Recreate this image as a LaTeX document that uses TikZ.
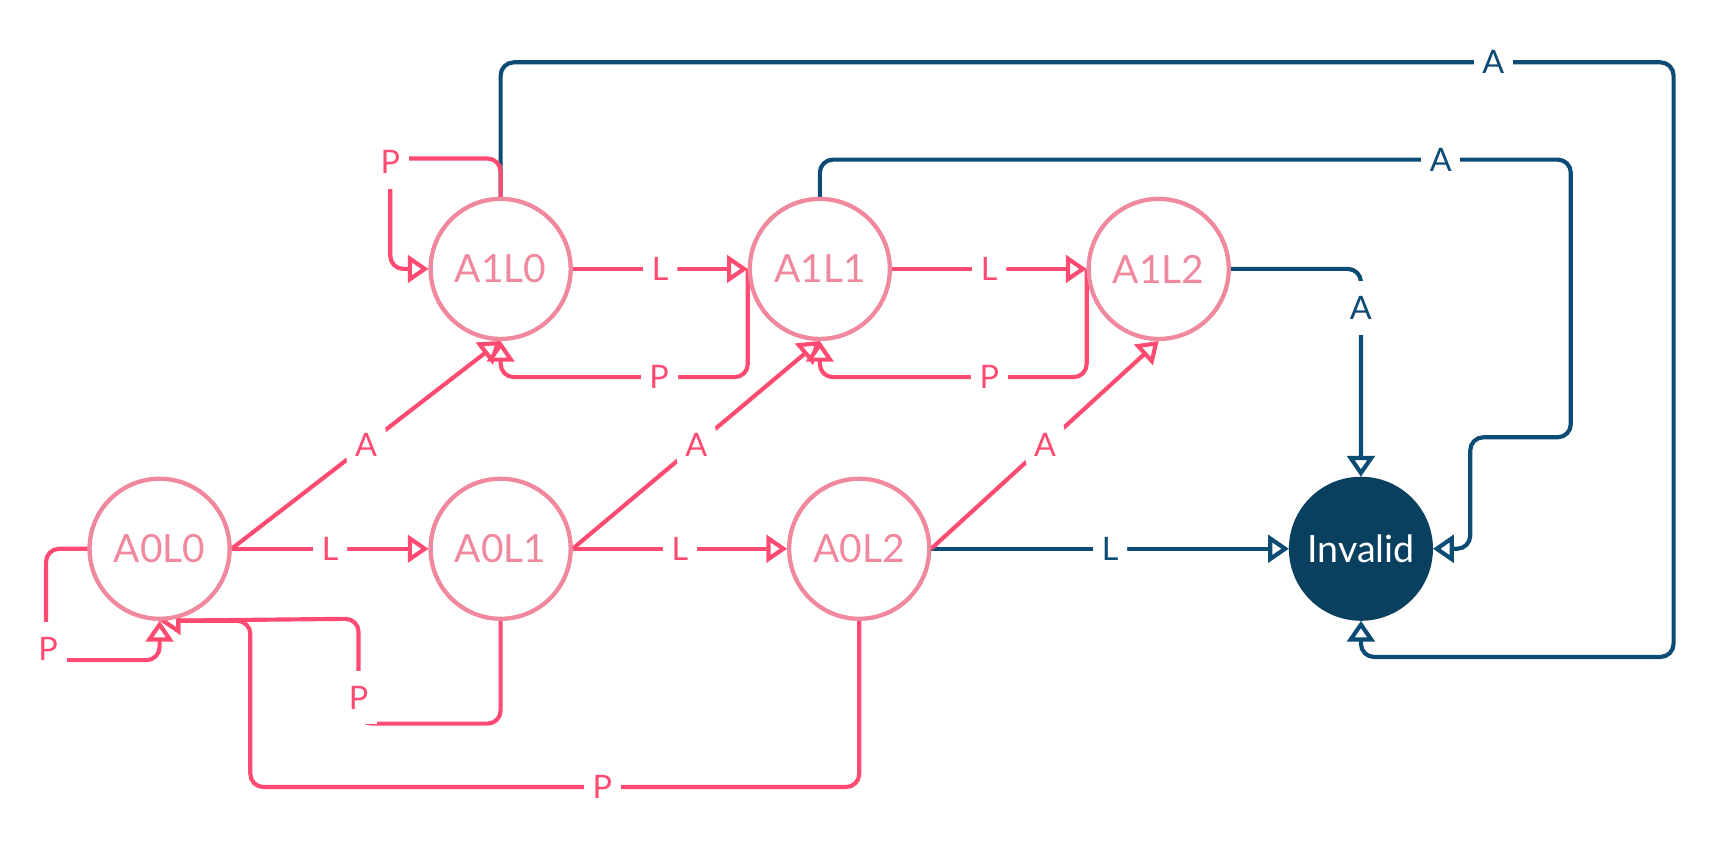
\documentclass[tikz,border=0pt]{standalone}
\usepackage{fontspec}
\setmainfont{Lato}
\usetikzlibrary{arrows.meta,calc}
\definecolor{pkline}{HTML}{FF4B72}
\definecolor{pknode}{HTML}{F0889E}
\definecolor{blline}{HTML}{0C4C74}
\definecolor{blfill}{HTML}{0A405F}
\tikzset{
  stnode/.style={circle, draw=pknode, fill=white, line width=1.9pt, minimum size=64pt, inner sep=0pt, text=pknode, font=\fontsize{17.8}{20}\selectfont},
  badnode/.style={circle, draw=blfill, fill=blfill, line width=1.9pt, minimum size=64pt, inner sep=0pt, text=white, font=\fontsize{17.2}{20}\selectfont},
  tip/.style={-{Triangle[fill=white,length=9.5pt,width=12.5pt,line join=miter]}},
  pk/.style={draw=pkline, line width=1.9pt, rounded corners=6pt, line join=round, tip},
  bl/.style={draw=blline, line width=1.9pt, rounded corners=6pt, line join=round, tip},
  lbl/.style={fill=white, inner xsep=4pt, inner ysep=7pt, font=\fontsize{14.8}{16}\selectfont},
  lpk/.style={lbl, text=pkline},
  lbl2/.style={lbl, text=blline}
}
\begin{document}
\begin{tikzpicture}[x=0.5pt,y=-0.5pt]
\useasboundingbox (0,0) rectangle (1568,778.5);
% nodes
\node[stnode] (a00) at (146,502) {A0L0};
\node[stnode] (a01) at (458,502) {A0L1};
\node[stnode] (a02) at (786,502) {A0L2};
\node[stnode] (a10) at (458,246) {A1L0};
\node[stnode] (a11) at (750,246) {A1L1};
\node[stnode] (a12) at (1060,246) {A1L2};
\node[badnode] (inv) at (1245,502) {Invalid};
% blue connectors
\draw[bl] (a10.north) |- (1531,57) |- (1245,601) -- (inv.south);
\node[lbl2] (l17) at (1366,57) {A};
\draw[bl] (a11.north) |- (1437,146) |- (1345,400) |- (inv.east);
\node[lbl2] (l16) at (1318,146) {A};
\draw[bl] (a12.east) -| (inv.north);
\node[lbl2] (l15) at (1245,282) {A};
\draw[bl] (a02) -- node[lbl2] (l9) {L} (inv);
% pink connectors
\draw[pk] (a00.west) -- ++(-38,0) |- ($(a00.south)+(0,36)$) -- (a00.south);
\node[lpk] (l1) at (44,594) {P};
\draw[pk] (a00) -- node[lpk] (l2) {L} (a01);
\draw[pk] (a00.east) -- node[lpk] (l3) {A} (a10.south);
\draw[pk] (a01.south) |- (328,662) -- (328,566) -- (a00.south);
\node[lpk] (l4) at (328,638) {P};
\draw[pk] (a02.south) |- (229,720) |- (a00.south);
\node[lpk] (l5) at (551,720) {P};
\draw[pk] (a01) -- node[lpk] (l6) {L} (a02);
\draw[pk] (a01.east) -- node[lpk] (l7) {A} (a11.south);
\draw[pk] (a02.east) -- node[lpk] (l8) {A} (a12.south);
\draw[pk] (a10.north) |- (357,145) |- (a10.west);
\node[lpk] (l10) at (357,148) {P};
\draw[pk] (a10) -- node[lpk] (l11) {L} (a11);
\draw[pk] (a11.west) -- ++(0,99) -| (a10.south);
\node[lpk] (l12) at (603,345) {P};
\draw[pk] (a11) -- node[lpk] (l13) {L} (a12);
\draw[pk] (a12.west) -- ++(0,99) -| (a11.south);
\node[lpk] (l14) at (905,345) {P};
% redraw nodes on top
\node[stnode] at (a00) {A0L0};
\node[stnode] at (a01) {A0L1};
\node[stnode] at (a02) {A0L2};
\node[stnode] at (a10) {A1L0};
\node[stnode] at (a11) {A1L1};
\node[stnode] at (a12) {A1L2};
\end{tikzpicture}
\end{document}
